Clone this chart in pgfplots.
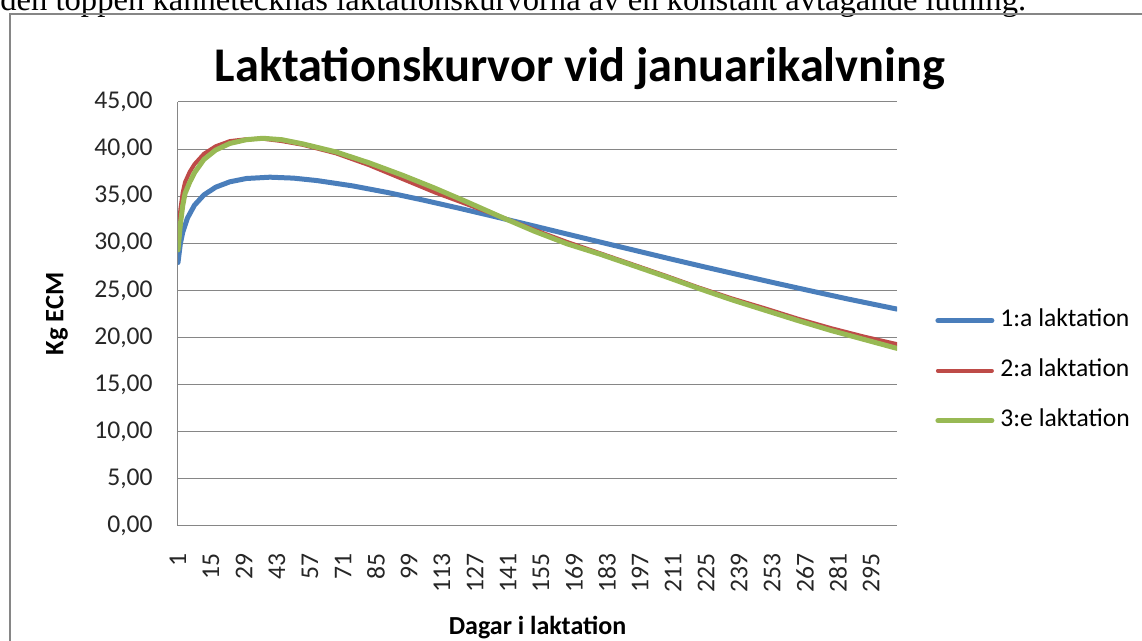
\documentclass[border=0pt]{standalone}
\usepackage{pgfplots}
\pgfplotsset{compat=1.18}
\usepackage{fontspec}
\setmainfont{Carlito}
\newfontfamily\seriffont{Liberation Serif}
\definecolor{xblue}{HTML}{4A7EBB}
\definecolor{xred}{HTML}{BE4B48}
\definecolor{xgreen}{HTML}{98B954}
\definecolor{xgrid}{HTML}{868686}
\begin{document}
\begin{tikzpicture}
\useasboundingbox (0pt,0pt) rectangle (571pt,320.5pt);
\clip (0pt,0pt) rectangle (571pt,320.5pt);
% page text above the chart
\node[anchor=base west, inner sep=0pt, font=\seriffont\fontsize{16.3}{19}\selectfont] at (0pt,315pt)
  {den toppen kännetecknas laktationskurvorna av en konstant avtagande lutning.};
% chart frame
\draw[xgrid, line width=0.9pt] (5pt,-20pt) -- (5pt,313.5pt) -- (600pt,313.5pt);
% title
\node[anchor=base, inner sep=0pt, font=\bfseries\fontsize{24.2}{28}\selectfont] at (290pt,279.5pt)
  {Laktationskurvor vid januarikalvning};
% y label
\node[rotate=90, inner sep=0pt, font=\bfseries\fontsize{13.3}{15}\selectfont] at (28.5pt,163.5pt) {Kg ECM};
\begin{axis}[
  at={(89pt,57.5pt)}, anchor=south west,
  scale only axis, width=359.5pt, height=212pt,
  xmin=1, xmax=306, ymin=0, ymax=45,
  axis x line*=bottom, axis y line*=left,
  axis line style={xgrid, line width=0.5pt, -},
  ytick={0,5,...,45},
  yticklabels={{0,00},{5,00},{10,00},{15,00},{20,00},{25,00},{30,00},{35,00},{40,00},{45,00}},
  xtick={1,15,...,295},
  major tick length=0pt,
  ymajorgrids, grid style={xgrid, line width=0.5pt},
  /pgf/number format/assume math mode=true,
  tick label style={font=\fontsize{12.8}{15}\selectfont, text=black!85},
  yticklabel style={anchor=east, inner sep=0pt, xshift=-12.5pt},
  xticklabel style={rotate=90, anchor=east, inner sep=0pt},
  xticklabel shift=13.5pt,
  xlabel={Dagar i laktation},
  xlabel style={at={(axis description cs:0.5,0)}, anchor=base, yshift=-54.5pt, font=\bfseries\fontsize{13}{15}\selectfont},
  legend style={at={(axis description cs:1,0.3663)}, anchor=west, xshift=19pt,
    draw=none, fill=none, inner sep=0pt, row sep=13pt,
    font=\fontsize{12.8}{15}\selectfont,
    nodes={inner sep=0pt, text height=9pt, text depth=3pt},
    /tikz/every odd column/.append style={column sep=3pt}},
  legend cell align=left,
  legend image code/.code={\draw[#1] (0pt,0pt) -- (27pt,0pt);},
  every axis plot/.append style={line join=round, line cap=round},
]
\addplot[xblue, line width=2.5pt] coordinates {
(1,27.96) (2,29.96) (3,31.16) (5,32.68) (8,34.05) (12,35.14) (17,35.96) (23,36.53)
(30,36.88) (40,37.02) (50,36.92) (60,36.66) (75,36.10) (90,35.39) (105,34.59)
(120,33.74) (135,32.86) (150,31.96) (165,31.05) (180,30.14) (195,29.24) (210,28.34)
(225,27.46) (240,26.60) (255,25.75) (270,24.92) (285,24.10) (306,23.02)
};
\addlegendentry{1:a laktation}
\addplot[xred, line width=2.0pt] coordinates {
(1,30.5) (2,33.6) (3,35.4) (4,36.5) (6,37.6) (8,38.4) (12,39.5) (17,40.3) (23,40.85)
(30,41.05) (37,41.1) (45,40.85) (54,40.45) (68,39.55) (82,38.3) (96,36.85) (110,35.4)
(124,34.1) (138,32.8) (152,31.45) (166,30.15) (180,28.95) (194,27.75) (208,26.55)
(222,25.3) (236,24.15) (250,23.1) (264,22.0) (278,21.0) (292,20.1) (306,19.3)
};
\addlegendentry{2:a laktation}
\addplot[xgreen, line width=2.5pt] coordinates {
(1,29.3) (2,32.0) (3,34.0) (4,35.3) (6,36.5) (8,37.5) (12,38.9) (17,39.9) (23,40.6)
(30,41.0) (37,41.15) (45,41.0) (54,40.55) (68,39.7) (82,38.55) (96,37.25) (110,35.85)
(124,34.35) (138,32.8) (152,31.3) (166,29.95) (180,28.85) (194,27.65) (208,26.45)
(222,25.2) (236,24.0) (250,22.9) (264,21.8) (278,20.75) (292,19.8) (306,18.85)
};
\addlegendentry{3:e laktation}
\end{axis}
\end{tikzpicture}
\end{document}
